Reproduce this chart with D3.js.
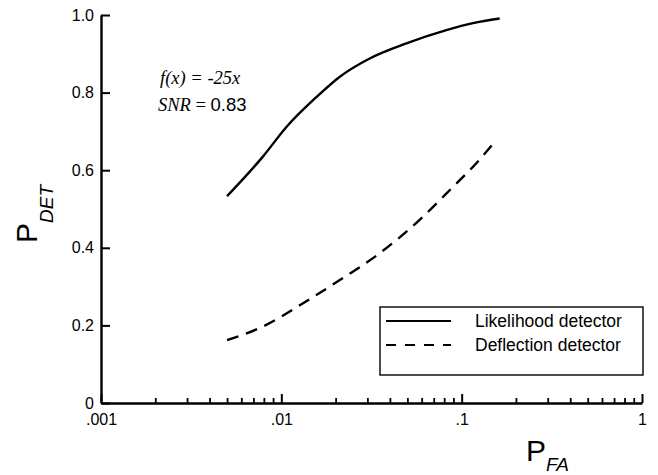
<!DOCTYPE html>
<html>
<head>
<meta charset="utf-8">
<script src="https://cdn.jsdelivr.net/npm/d3@7"></script>
<style>
  body { margin: 0; background: #fff; }
  svg { font-family: "Liberation Sans", Arial, sans-serif; }
</style>
</head>
<body>
<div id="chart"></div>
<script>
// ROC curves
const pfaLik = [0.005, 0.0079, 0.0107, 0.0157, 0.0211, 0.0309, 0.0494, 0.0823, 0.1155, 0.1625];
const pdetLik = [0.533, 0.635, 0.712, 0.789, 0.841, 0.888, 0.927, 0.961, 0.979, 0.991];
const pfaDef = [0.005, 0.0079, 0.0132, 0.0211, 0.0351, 0.0585, 0.0895, 0.1206, 0.1557];
const pdetDef = [0.162, 0.197, 0.257, 0.317, 0.386, 0.472, 0.557, 0.618, 0.678];
const xTicks = [0.001, 0.01, 0.1, 1];
const xTickLabels = [".001", ".01", ".1", "1"];
const yTicks = [0, 0.2, 0.4, 0.6, 0.8, 1.0];
const yTickLabels = ["0", "0.2", "0.4", "0.6", "0.8", "1.0"];
const legendLabels = ["Likelihood detector", "Deflection detector"];

const width = 658, height = 475;
const svg = d3.select("#chart").append("svg")
    .attr("width", width)
    .attr("height", height);

const x = d3.scaleLog().domain([0.001, 1]).range([101, 642]);
const y = d3.scaleLinear().domain([0, 1]).range([403, 15]);

// minor ticks 2..9 per decade
const minor = [];
for (let e = -3; e < 0; e++) {
    for (let m = 2; m <= 9; m++) minor.push(m * Math.pow(10, e));
}

// x axis: major ticks with labels
const xAxis = svg.append("g")
    .attr("transform", `translate(0, ${y(0)})`)
    .call(d3.axisBottom(x)
        .tickValues(xTicks)
        .tickFormat((d, i) => xTickLabels[i])
        .tickSizeInner(-9)
        .tickSizeOuter(0)
        .tickPadding(11));
xAxis.select(".domain").attr("stroke", "#000").attr("stroke-width", 2.4);
xAxis.selectAll(".tick line").attr("stroke", "#000").attr("stroke-width", 2);
xAxis.selectAll(".tick text").attr("font-size", 16).attr("fill", "#000");

// x axis minor ticks
const xMinor = svg.append("g")
    .attr("transform", `translate(0, ${y(0)})`)
    .call(d3.axisBottom(x)
        .tickValues(minor)
        .tickFormat("")
        .tickSizeInner(-5)
        .tickSizeOuter(0));
xMinor.select(".domain").remove();
xMinor.selectAll(".tick line").attr("stroke", "#000").attr("stroke-width", 1.8);

// y axis
const yAxis = svg.append("g")
    .attr("transform", `translate(${x(0.001)}, 0)`)
    .call(d3.axisLeft(y)
        .tickValues(yTicks)
        .tickFormat((d, i) => yTickLabels[i])
        .tickSizeInner(-9)
        .tickSizeOuter(0)
        .tickPadding(7));
yAxis.select(".domain").attr("stroke", "#000").attr("stroke-width", 2.4);
yAxis.selectAll(".tick line").attr("stroke", "#000").attr("stroke-width", 2);
yAxis.selectAll(".tick text").attr("font-size", 16).attr("fill", "#000");

// curves
const line = d3.line()
    .x(d => x(d[0]))
    .y(d => y(d[1]))
    .curve(d3.curveMonotoneX);

svg.append("path")
    .datum(pfaLik.map((v, i) => [v, pdetLik[i]]))
    .attr("d", line)
    .attr("fill", "none")
    .attr("stroke", "#000")
    .attr("stroke-width", 2.4);

svg.append("path")
    .datum(pfaDef.map((v, i) => [v, pdetDef[i]]))
    .attr("d", line)
    .attr("fill", "none")
    .attr("stroke", "#000")
    .attr("stroke-width", 2.4)
    .attr("stroke-dasharray", "12,8");

// annotation
const ann = svg.append("g").attr("font-size", 18.5);
const t1 = ann.append("text").attr("x", 160).attr("y", 84);
t1.append("tspan").attr("font-family", "Liberation Serif, serif").attr("font-style", "italic").text("f(x) = -25x");
const t2 = ann.append("text").attr("x", 158).attr("y", 111);
t2.append("tspan").attr("font-family", "Liberation Serif, serif").attr("font-style", "italic").text("SNR");
t2.append("tspan").attr("font-family", "Liberation Serif, serif").text(" = ");
t2.append("tspan").text("0.83");

// legend
const legend = svg.append("g");
legend.append("rect")
    .attr("x", 380).attr("y", 307)
    .attr("width", 263).attr("height", 68)
    .attr("fill", "#fff")
    .attr("stroke", "#000")
    .attr("stroke-width", 1.4);
legendLabels.forEach((lab, i) => {
    const ly = 321 + i * 24;
    legend.append("line")
        .attr("x1", 386).attr("x2", 451)
        .attr("y1", ly).attr("y2", ly)
        .attr("stroke", "#000")
        .attr("stroke-width", 2.2)
        .attr("stroke-dasharray", i === 1 ? "10,9" : null);
    legend.append("text")
        .attr("x", 475).attr("y", ly + 6)
        .attr("font-size", 17.5)
        .text(lab);
});

// axis titles
const xt = svg.append("text")
    .attr("x", 526).attr("y", 461)
    .attr("font-size", 30);
xt.append("tspan").text("P");
xt.append("tspan").attr("font-size", 19).attr("font-style", "italic").attr("dy", 10).text("FA");

const yt = svg.append("text")
    .attr("transform", "translate(37, 243) rotate(-90)")
    .attr("font-size", 30);
yt.append("tspan").text("P");
yt.append("tspan").attr("font-size", 19).attr("font-style", "italic").attr("dy", 16).text("DET");
</script>
</body>
</html>
